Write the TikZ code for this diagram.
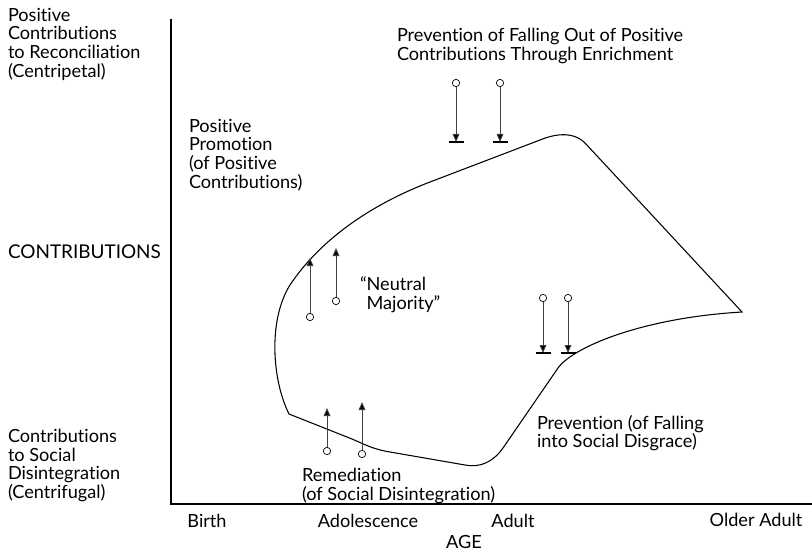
\documentclass[tikz,border=0pt]{standalone}
\usepackage{fontspec}
\setmainfont{Lato}[Ligatures={NoCommon,NoRare,NoDiscretionary}]
\usetikzlibrary{arrows.meta}
\begin{document}
\begin{tikzpicture}[x=0.75pt,y=-0.75pt,
  lbl/.style={inner sep=0pt,outer sep=0pt,align=left,anchor=north west,font=\fontsize{13.6}{14}\selectfont},
  tick/.style={inner sep=0pt,anchor=north,font=\fontsize{13.6}{14}\selectfont},
  axisline/.style={line width=1pt,black},
  curveline/.style={line width=0.8pt,black},
  knob/.style={circle,draw=black,fill=white,line width=0.5pt,minimum size=5.5pt,inner sep=0pt},
  shaft/.style={line width=0.7pt,black!75,-{Triangle[width=5pt,length=6pt,fill=black]}},
  barline/.style={line width=0.8pt,black}]
\useasboundingbox (0,0) rectangle (812,552);
% axes
\coordinate (ytop) at (171,19);
\coordinate (origin) at (171,504);
\coordinate (xend) at (812,504);
\draw[axisline] (ytop) -- (origin) -- (xend);
% curve
\draw[curveline] (289,414) -- (352,439) .. controls (364,444) and (372,449) .. (390,452)
  -- (465,465) .. controls (480,468) and (493,462) .. (503,448)
  -- (558,368) .. controls (572,348) and (640,318) .. (742,312)
  -- (585,143) .. controls (572,130) and (552,135) .. (540,140)
  -- (430,182) .. controls (370,205) and (320,240) .. (290,285)
  .. controls (268,320) and (272,380) .. (289,414) -- cycle;
% labels
\node[lbl] (tl) at (8,8) {Positive\\Contributions\\to Reconciliation\\(Centripetal)};
\node[lbl,font=\fontsize{14.2}{14}\selectfont] (cont) at (8,245) {CONTRIBUTIONS};
\node[lbl] (bl) at (8,429) {Contributions\\to Social\\Disintegration\\(Centrifugal)};
\node[lbl] (pp) at (189,119) {Positive\\Promotion\\(of Positive\\Contributions)};
\node[lbl] (pf) at (397,28) {Prevention of Falling Out of Positive\\Contributions Through Enrichment};
\node[lbl] (nm) at (360,277) {“Neutral\\\hphantom{“}Majority”};
\node[lbl] (pd) at (537,415) {Prevention (of Falling\\into Social Disgrace)};
\node[lbl] (rm) at (302,468) {Remediation\\(of Social Disintegration)};
\node[tick] (birth) at (207,514) {Birth};
\node[tick] (adol) at (368,514) {Adolescence};
\node[tick] (adult) at (513,514) {Adult};
\node[tick] (older) at (756,513) {Older Adult};
\node[tick] (age) at (464,535) {AGE};
% top arrows (down, with bar)
\node[knob] (k1) at (456,83) {};
\node[knob] (k2) at (500,83) {};
\coordinate (t1) at (456,142);
\coordinate (t2) at (500,142);
\draw[shaft] (k1) -- (t1);
\draw[shaft] (k2) -- (t2);
\draw[barline] ([xshift=-7.5*0.75pt]t1) -- ([xshift=7.5*0.75pt]t1);
\draw[barline] ([xshift=-7.5*0.75pt]t2) -- ([xshift=7.5*0.75pt]t2);
% right arrows (down, with bar)
\node[knob] (k3) at (543,298) {};
\node[knob] (k4) at (568,298) {};
\coordinate (t3) at (543,353);
\coordinate (t4) at (568,353);
\draw[shaft] (k3) -- (t3);
\draw[shaft] (k4) -- (t4);
\draw[barline] ([xshift=-7.5*0.75pt]t3) -- ([xshift=7.5*0.75pt]t3);
\draw[barline] ([xshift=-7.5*0.75pt]t4) -- ([xshift=7.5*0.75pt]t4);
% neutral arrows (up)
\node[knob] (k5) at (310,317) {};
\node[knob] (k6) at (336,301) {};
\coordinate (t5) at (310,258);
\coordinate (t6) at (336,248);
\draw[shaft] (k5) -- (t5);
\draw[shaft] (k6) -- (t6);
% remediation arrows (up)
\node[knob] (k7) at (327,451) {};
\node[knob] (k8) at (362,454) {};
\coordinate (t7) at (327,408);
\coordinate (t8) at (362,402);
\draw[shaft] (k7) -- (t7);
\draw[shaft] (k8) -- (t8);
\end{tikzpicture}
\end{document}
